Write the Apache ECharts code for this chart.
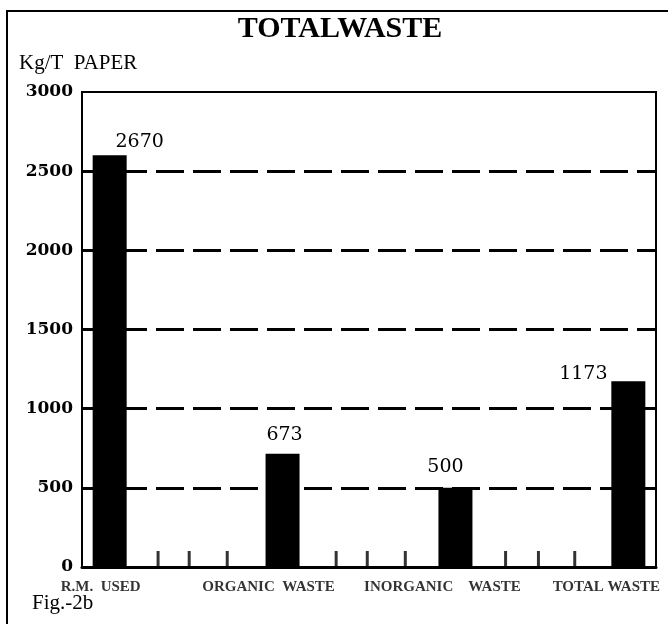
<!DOCTYPE html>
<html>
<head>
<meta charset="utf-8">
<script src="https://cdn.jsdelivr.net/npm/echarts@6/dist/echarts.min.js"></script>
<style>
  html, body { margin: 0; padding: 0; background: #fff; }
  #chart { width: 668px; height: 624px; }
</style>
</head>
<body>
<div id="chart"></div>
<script>
// ---- data ----
const categories = ['R.M.  USED', 'ORGANIC  WASTE', 'INORGANIC    WASTE', 'TOTAL WASTE'];
const barValues = [2600, 715, 500, 1173];          // bar heights as drawn
const valueLabels = ['2670', '673', '500', '1173']; // printed labels
const yTickLabels = ['0', '500', '1000', '1500', '2000', '2500', '3000'];
const minorTickPos = [0.28, 0.46, 0.68, 1.31, 1.49, 1.71, 2.29, 2.48, 2.69];

// ---- styling (not data) ----
const valueLabelShift = [[30, -4], [2, -9], [-10, -11], [-45, 2]];
const catLabelShift = [[-9, 0], [-14, 0], [-13, 0], [-22, 0]];

const chart = echarts.init(document.getElementById('chart'));

const option = {
  animation: false,
  backgroundColor: '#fff',
  grid: {
    left: 82, right: 12, top: 92, bottom: 57,
    show: true, borderColor: '#000', borderWidth: 2, backgroundColor: 'transparent'
  },
  xAxis: {
    type: 'value',
    min: -0.16, max: 3.16,
    axisLine: { show: true, onZero: false, lineStyle: { color: '#000', width: 3 } },
    axisTick: { show: false },
    axisLabel: { show: false },
    splitLine: { show: false }
  },
  yAxis: {
    type: 'value',
    min: 0, max: 3000, interval: 500,
    axisLine: { show: true, onZero: false, lineStyle: { color: '#000', width: 2 } },
    axisTick: { show: false },
    axisLabel: {
      color: '#000',
      fontFamily: 'DejaVu Serif',
      fontWeight: 'bold',
      fontSize: 17,
      margin: 9,
      padding: [5, 0, 0, 0],
      formatter: (v) => yTickLabels[Math.round(v / 500)]
    },
    splitLine: {
      show: true,
      lineStyle: {
        color: ['transparent', '#000', '#000', '#000', '#000', '#000', 'transparent'],
        width: 3,
        type: [28, 9]
      }
    }
  },
  graphic: [
    { type: 'rect', shape: { x: 7, y: 11, width: 700, height: 700 },
      style: { fill: 'none', stroke: '#000', lineWidth: 2 }, silent: true },
    { type: 'text', x: 340, y: 14,
      style: { text: 'TOTALWASTE', fill: '#000', font: 'bold 30px "Liberation Serif"',
               textAlign: 'center', textVerticalAlign: 'top' } },
    { type: 'text', x: 19, y: 53,
      style: { text: 'Kg/T  PAPER', fill: '#000', font: '21px "Liberation Serif"',
               textAlign: 'left', textVerticalAlign: 'top' } },
    { type: 'text', x: 32, y: 593,
      style: { text: 'Fig.-2b', fill: '#000', font: '21px "Liberation Serif"',
               textAlign: 'left', textVerticalAlign: 'top' } }
  ],
  series: [
    {
      type: 'bar',
      barWidth: 34,
      itemStyle: { color: '#000' },
      z: 3,
      data: barValues.map((v, i) => ({
        value: [i, v],
        label: {
          show: true,
          position: 'top',
          distance: 0,
          offset: valueLabelShift[i],
          formatter: valueLabels[i],
          color: '#000',
          fontFamily: 'DejaVu Serif',
          fontSize: 19,
          lineHeight: 19
        }
      }))
    },
    {
      type: 'scatter',
      symbol: 'rect',
      symbolSize: [3, 16],
      symbolOffset: [0, -8],
      itemStyle: { color: '#000' },
      z: 4,
      silent: true,
      data: minorTickPos.map((x) => [x, 0])
    },
    {
      type: 'scatter',
      symbolSize: 0,
      silent: true,
      z: 4,
      data: categories.map((c, i) => ({
        value: [i, 0],
        label: {
          show: true,
          position: 'bottom',
          distance: 13,
          offset: catLabelShift[i],
          formatter: c,
          color: '#000',
          fontFamily: 'Liberation Serif',
          fontWeight: 'bold',
          fontSize: 15
        }
      }))
    }
  ]
};

chart.setOption(option);
</script>
</body>
</html>
